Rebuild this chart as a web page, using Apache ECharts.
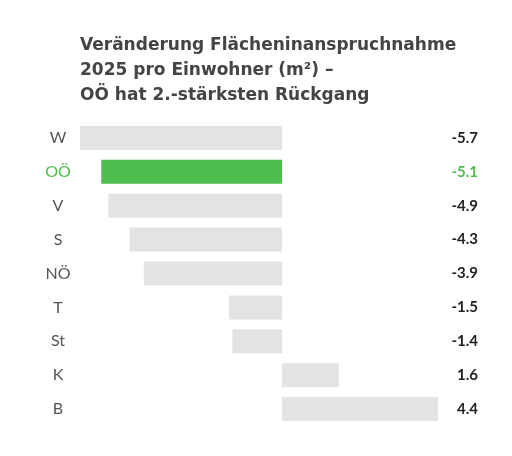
<!DOCTYPE html><html><head><meta charset="utf-8"><script src="https://cdn.jsdelivr.net/npm/echarts@6/dist/echarts.min.js"></script></head><body style="margin:0;background:#fff"><div id="c" style="width:512px;height:456px"></div><script>
const categories=['W','OÖ','V','S','NÖ','T','St','K','B'];
const values=[-5.7,-5.1,-4.9,-4.3,-3.9,-1.5,-1.4,1.6,4.4];
const valueLabels=['-5.7','-5.1','-4.9','-4.3','-3.9','-1.5','-1.4','1.6','4.4'];
const highlight='OÖ';
const green='#4dbd4d', gray='#e3e3e3';
const ch=echarts.init(document.getElementById('c'));
const rich={g:{color:green,fontSize:16,fontFamily:'Lato'},n:{color:'#555',fontSize:16,fontFamily:'Lato'}};
ch.setOption({
title:{text:'Veränderung Flächeninanspruchnahme\n2025 pro Einwohner (m²) –\nOÖ hat 2.-stärksten Rückgang',left:75,top:28,textStyle:{fontSize:17,fontWeight:'bold',color:'#444',fontFamily:'DejaVu Sans',lineHeight:25}},
grid:{left:80,right:74,top:121,bottom:30},
xAxis:{type:'value',min:-5.7,max:4.4,show:false},
yAxis:[{type:'category',inverse:true,data:categories,axisLine:{show:false},axisTick:{show:false},
axisLabel:{margin:22,align:'center',formatter:v=>v===highlight?'{g|'+v+'}':'{n|'+v+'}',rich:rich}},
{type:'category',inverse:true,position:'right',data:valueLabels,axisLine:{show:false},axisTick:{show:false},
axisLabel:{margin:40,align:'right',formatter:(v,i)=>categories[i]===highlight?'{g|'+v+'}':'{n|'+v+'}',rich:{g:{color:green,fontSize:15,fontWeight:'bold',fontFamily:'Lato'},n:{color:'#222',fontSize:15,fontWeight:'bold',fontFamily:'Lato'}}}}],
series:[{type:'bar',barWidth:24,data:values.map((v,i)=>({value:v,itemStyle:{color:categories[i]===highlight?green:gray}})),silent:true}]
});
</script></body></html>
